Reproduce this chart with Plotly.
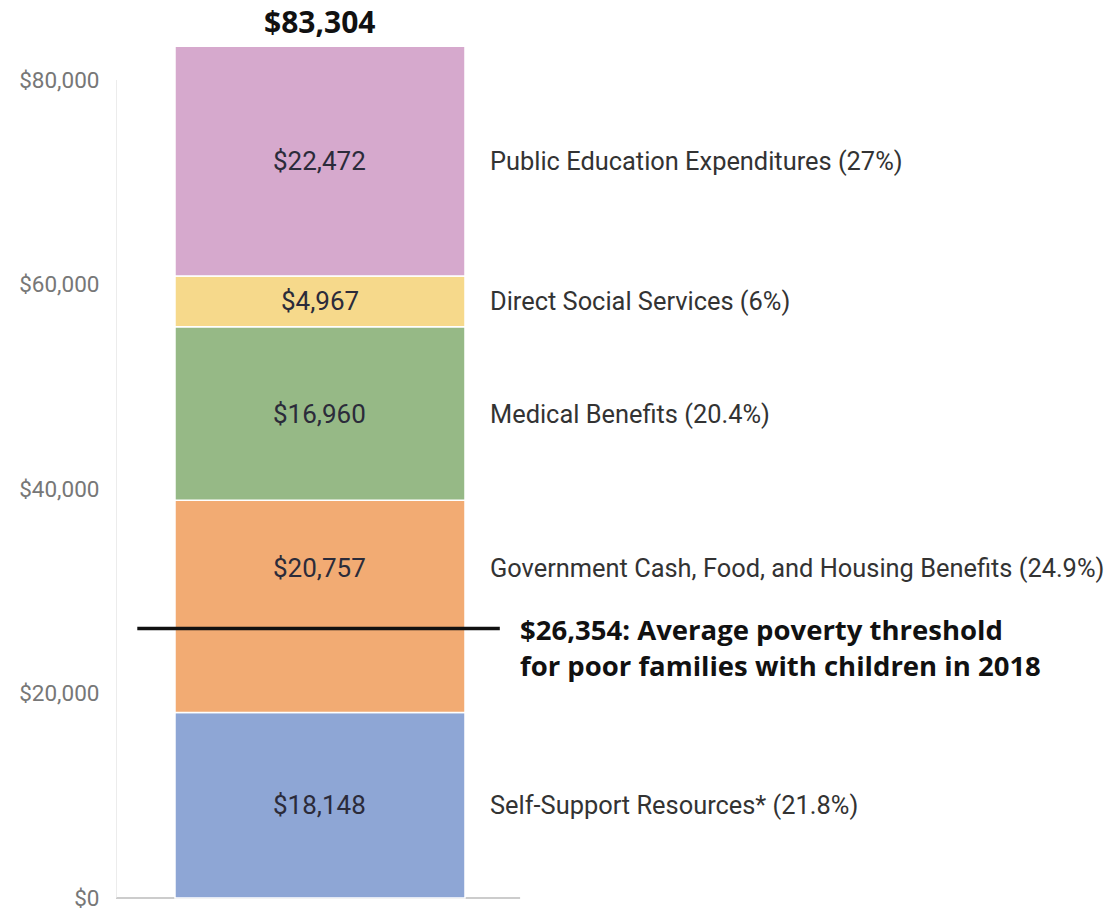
import plotly.graph_objects as go

# ---- data ----
categories = [
    "Self-Support Resources* (21.8%)",
    "Government Cash, Food, and Housing Benefits (24.9%)",
    "Medical Benefits (20.4%)",
    "Direct Social Services (6%)",
    "Public Education Expenditures (27%)",
]
values = [18148, 20757, 16960, 4967, 22472]
value_labels = ["$18,148", "$20,757", "$16,960", "$4,967", "$22,472"]
colors = ["#8EA6D5", "#F2AB73", "#96B986", "#F6D98B", "#D6A9CD"]
total_label = "$83,304"
poverty_value = 26354
poverty_text = "$26,354: Average poverty threshold<br>for poor families with children in 2018"
tick_vals = [0, 20000, 40000, 60000, 80000]
tick_text = ["$0", "$20,000", "$40,000", "$60,000", "$80,000"]

FONT = "Roboto"
BOLD_FONT = "Open Sans"

fig = go.Figure()
base = 0
mids = []
for cat, v, c in zip(categories, values, colors):
    fig.add_trace(go.Bar(
        x=[0], y=[v], base=[base], width=1, name=cat,
        marker=dict(color=c, line=dict(color="white", width=1.5)),
        hoverinfo="skip", showlegend=False,
    ))
    mids.append(base + v / 2)
    base += v
total = base

# label nudges (gov label moved up to clear the threshold note)
nudge = [0, 3800, 0, 0, 0]

for cat, lab, m, d in zip(categories, value_labels, mids, nudge):
    fig.add_annotation(x=0, y=m + d, text=lab, showarrow=False,
                       font=dict(family=FONT, size=26, color="#2b2b3a"),
                       xanchor="center", yanchor="middle")
    fig.add_annotation(x=0.58, y=m + d, text=cat, showarrow=False,
                       font=dict(family=FONT, size=25.4, color="#333333"),
                       xanchor="left", yanchor="middle")

fig.add_annotation(x=0, y=total, text="<b>" + total_label + "</b>", showarrow=False,
                   font=dict(family=BOLD_FONT, size=30, color="#111111"),
                   xanchor="center", yanchor="bottom", yshift=2)

# poverty threshold line
fig.add_shape(type="line", x0=-0.63, x1=0.62, y0=poverty_value, y1=poverty_value,
              line=dict(color="#111111", width=3.5))
fig.add_annotation(x=0.683, y=poverty_value, text="<b>" + poverty_text + "</b>",
                   showarrow=False, align="left",
                   font=dict(family=BOLD_FONT, size=27.5, color="#111111"),
                   xanchor="left", yanchor="middle", yshift=-19)

# axis lines
fig.add_shape(type="line", x0=-0.7034, x1=0.69, y0=0, y1=0,
              line=dict(color="#bbbbbb", width=1.5), layer="below")
fig.add_shape(type="line", x0=-0.7034, x1=-0.7034, y0=0, y1=80000,
              line=dict(color="#e6e6e6", width=1.5), layer="below")

fig.update_layout(
    width=1112, height=911,
    margin=dict(l=116, r=0, t=29, b=0),
    paper_bgcolor="white", plot_bgcolor="white",
    barmode="overlay",
    xaxis=dict(range=[-0.7034, 2.731], visible=False, fixedrange=True),
    yaxis=dict(range=[-1270, 85000], tickmode="array", tickvals=tick_vals, ticktext=tick_text,
               showgrid=False, zeroline=False, showline=False,
               ticks="outside", ticklen=11, tickcolor="rgba(0,0,0,0)",
               ticklabeloverflow="allow",
               tickfont=dict(family=FONT, size=22.5, color="#777777"),
               fixedrange=True, automargin=False),
)

fig.write_html("out.html", config={"displayModeBar": False},
               post_script="document.body.style.margin='0';document.body.style.overflow='hidden';")
